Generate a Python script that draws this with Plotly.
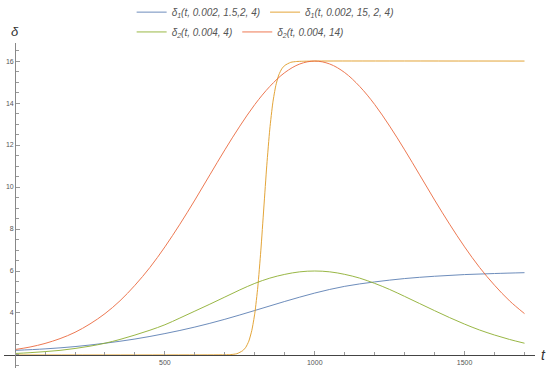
import plotly.graph_objects as go

# ---------------- data ----------------
t_gauss = [0, 50, 100, 150, 200, 250, 300, 350, 400, 450, 500, 550, 600, 650, 700,
           750, 800, 850, 900, 950, 1000, 1050, 1100, 1150, 1200, 1250, 1300, 1350,
           1400, 1450, 1500, 1550, 1600, 1650, 1700]
red_vals = [2.26, 2.38, 2.55, 2.78, 3.08, 3.48, 3.97, 4.58, 5.32, 6.17, 7.15, 8.23,
            9.38, 10.58, 11.77, 12.90, 13.93, 14.79, 15.45, 15.86, 16.00, 15.86, 15.45,
            14.79, 13.93, 12.90, 11.77, 10.58, 9.38, 8.23, 7.15, 6.17, 5.32, 4.58, 3.97]
green_vals = [2.07, 2.11, 2.16, 2.22, 2.31, 2.42, 2.56, 2.74, 2.95, 3.18, 3.44, 3.76,
              4.09, 4.42, 4.76, 5.10, 5.41, 5.66, 5.84, 5.96, 6.00, 5.96, 5.84, 5.66,
              5.41, 5.12, 4.79, 4.45, 4.11, 3.78, 3.47, 3.19, 2.95, 2.74, 2.56]

t_blue = [0, 100, 200, 300, 400, 500, 600, 700, 800, 900, 1000, 1100, 1200, 1300,
          1400, 1500, 1600, 1700]
blue_vals = [2.22, 2.29, 2.40, 2.56, 2.76, 3.02, 3.33, 3.70, 4.12, 4.55, 4.95, 5.27,
             5.48, 5.64, 5.75, 5.83, 5.88, 5.92]

t_orange = [0, 700, 720, 740, 760, 770, 780, 790, 800, 810, 820, 830, 840, 850, 860,
            870, 880, 890, 900, 920, 940, 960, 1000, 1700]
orange_vals = [2.00, 2.01, 2.02, 2.06, 2.21, 2.37, 2.66, 3.17, 3.99, 5.24, 6.96, 9.00,
               11.04, 12.76, 14.01, 14.83, 15.34, 15.63, 15.79, 15.94, 15.98, 15.99,
               16.00, 16.00]

names = ["<i>δ<sub>1</sub>(t, 0.002, 1.5,2, 4)</i>",
         "<i>δ<sub>1</sub>(t, 0.002, 15, 2, 4)</i>",
         "<i>δ<sub>2</sub>(t, 0.004, 4)</i>",
         "<i>δ<sub>2</sub>(t, 0.004, 14)</i>"]

x_ticks = [500, 1000, 1500]
y_ticks = [4, 6, 8, 10, 12, 14, 16]

# ---------------- style ----------------
BLUE, ORANGE, GREEN, RED = "#5E81B5", "#E19C24", "#8FB032", "#EB6235"
FONT = "Liberation Sans, Arial, sans-serif"
XMIN, XMAX = -37, 1735
YMIN, YMAX = 1.38, 16.86
AXIS_Y = 2      # horizontal axis crosses here
AXIS_X = 0      # vertical axis crosses here
LW = 1.0

fig = go.Figure()
fig.add_trace(go.Scatter(x=t_blue, y=blue_vals, mode="lines", name=names[0], opacity=0.9,
                         line=dict(color=BLUE, width=LW, shape="spline"), legend="legend"))
fig.add_trace(go.Scatter(x=t_orange, y=orange_vals, mode="lines", name=names[1], opacity=0.9,
                         line=dict(color=ORANGE, width=LW, shape="spline", smoothing=0.6),
                         legend="legend"))
fig.add_trace(go.Scatter(x=t_gauss, y=green_vals, mode="lines", name=names[2], opacity=0.9,
                         line=dict(color=GREEN, width=LW, shape="spline"), legend="legend2"))
fig.add_trace(go.Scatter(x=t_gauss, y=red_vals, mode="lines", name=names[3], opacity=0.85,
                         line=dict(color=RED, width=LW, shape="spline"), legend="legend2"))

legend_common = dict(orientation="h", xanchor="left", yanchor="middle",
                     font=dict(family=FONT, size=10, color="#555"),
                     itemwidth=30, bgcolor="rgba(0,0,0,0)", borderwidth=0,
                     tracegroupgap=0, itemclick=False)

fig.update_layout(
    width=550, height=377, autosize=False,
    margin=dict(l=4, r=15, t=43, b=9, autoexpand=False),
    paper_bgcolor="white", plot_bgcolor="white",
    font=dict(family=FONT, color="#555"),
    xaxis=dict(range=[XMIN, XMAX], anchor="free",
               position=(AXIS_Y - YMIN) / (YMAX - YMIN),
               showgrid=False, zeroline=False, showline=True,
               linecolor="#444", linewidth=1.3,
               tickvals=x_ticks, ticks="inside", ticklen=4, tickwidth=1,
               tickcolor="#999", tickfont=dict(size=7, color="#555"),
               minor=dict(dtick=100, tick0=0, ticks="inside", ticklen=2.5,
                          tickcolor="#999", tickwidth=1)),
    yaxis=dict(range=[YMIN, YMAX], anchor="free",
               position=(AXIS_X - XMIN) / (XMAX - XMIN),
               showgrid=False, zeroline=False, showline=True,
               linecolor="#888", linewidth=1,
               tickvals=y_ticks, ticks="inside", ticklen=4, tickwidth=1,
               tickcolor="#999", tickfont=dict(size=7, color="#555"),
               minor=dict(dtick=0.5, tick0=0, ticks="inside", ticklen=2.5,
                          tickcolor="#999", tickwidth=1)),
    legend=dict(x=0.2404, y=1.095, **legend_common),
    legend2=dict(x=0.2404, y=1.034, **legend_common),
    annotations=[
        dict(text="<i>δ</i>", x=AXIS_X, xref="x", y=1, yref="paper",
             xanchor="center", yanchor="bottom", yshift=2, showarrow=False,
             font=dict(family=FONT, size=13, color="#333")),
        dict(text="<i>t</i>", x=1, xref="paper", y=AXIS_Y, yref="y",
             xanchor="left", yanchor="middle", xshift=4, showarrow=False,
             font=dict(family=FONT, size=14, color="#333")),
    ],
)

fig.write_html("out.html", config={"displayModeBar": False},
               post_script="document.body.style.margin='0';document.body.style.padding='0';")
